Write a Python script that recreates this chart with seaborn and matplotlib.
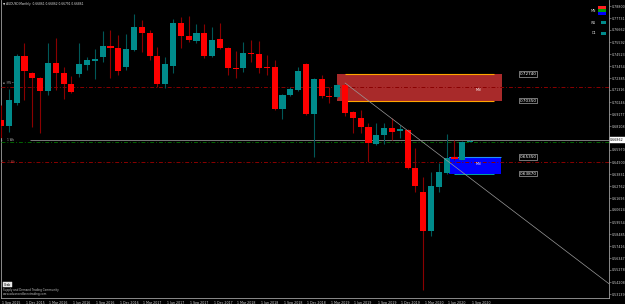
import matplotlib
matplotlib.use("Agg")
import matplotlib.pyplot as plt
import matplotlib.transforms as mtransforms
from matplotlib.patches import Rectangle
import seaborn as sns
import pandas as pd

# ---------------- data (monthly candles, Sep 2015 .. Sep 2020) ----------------
month_index = list(range(61))
opens = [0.6864, 0.6811, 0.7016, 0.7435, 0.7283, 0.7239, 0.7123, 0.7372, 0.7283, 0.7185,
         0.7274, 0.7354, 0.7390, 0.7426, 0.7524, 0.7506, 0.7337, 0.7488, 0.7693, 0.7639,
         0.7435, 0.7185, 0.7346, 0.7729, 0.7613, 0.7568, 0.7639, 0.7435, 0.7586, 0.7506,
         0.7328, 0.7328, 0.7461, 0.7452, 0.7337, 0.7337, 0.6962, 0.7087, 0.7132, 0.7363,
         0.6918, 0.7230, 0.7078, 0.7069, 0.7176, 0.6936, 0.6882, 0.6802, 0.6651, 0.6731,
         0.6793, 0.6766, 0.6775, 0.6437, 0.6223, 0.5876, 0.6268, 0.6392, 0.6535, 0.6508,
         0.6668]
highs = [0.6998, 0.7141, 0.7452, 0.7550, 0.7292, 0.7248, 0.7550, 0.7595, 0.7337, 0.7256,
         0.7550, 0.7426, 0.7497, 0.7657, 0.7666, 0.7622, 0.7631, 0.7809, 0.7755, 0.7666,
         0.7515, 0.7426, 0.7764, 0.7782, 0.7791, 0.7720, 0.7720, 0.7693, 0.7729, 0.7515,
         0.7479, 0.7559, 0.7577, 0.7568, 0.7444, 0.7399, 0.7096, 0.7158, 0.7337, 0.7372,
         0.7239, 0.7265, 0.7158, 0.7185, 0.7185, 0.6945, 0.6954, 0.6838, 0.6838, 0.6838,
         0.6882, 0.6820, 0.6784, 0.6615, 0.6357, 0.6401, 0.6481, 0.6740, 0.6686, 0.6677,
         0.6686]
lows = [0.6704, 0.6758, 0.6998, 0.7043, 0.6802, 0.6749, 0.7087, 0.7132, 0.7052, 0.7105,
        0.7248, 0.7310, 0.7230, 0.7381, 0.7239, 0.7265, 0.7310, 0.7479, 0.7470, 0.7399,
        0.7158, 0.7150, 0.7283, 0.7506, 0.7559, 0.7550, 0.7417, 0.7426, 0.7497, 0.7265,
        0.7239, 0.7292, 0.7381, 0.7283, 0.7265, 0.6954, 0.6873, 0.7078, 0.7123, 0.6909,
        0.6535, 0.7060, 0.7016, 0.7060, 0.6900, 0.6749, 0.6749, 0.6490, 0.6642, 0.6651,
        0.6686, 0.6704, 0.6428, 0.6223, 0.5350, 0.5831, 0.6223, 0.6383, 0.6508, 0.6508,
        0.6668]
closes = [0.6811, 0.7043, 0.7435, 0.7301, 0.7239, 0.7123, 0.7372, 0.7283, 0.7185, 0.7114,
          0.7363, 0.7399, 0.7408, 0.7524, 0.7506, 0.7301, 0.7497, 0.7693, 0.7639, 0.7435,
          0.7185, 0.7363, 0.7729, 0.7613, 0.7577, 0.7639, 0.7435, 0.7577, 0.7506, 0.7328,
          0.7319, 0.7461, 0.7452, 0.7328, 0.7328, 0.6962, 0.7087, 0.7141, 0.7301, 0.6918,
          0.7230, 0.7078, 0.7069, 0.7176, 0.6927, 0.6882, 0.6802, 0.6659, 0.6731, 0.6793,
          0.6758, 0.6784, 0.6437, 0.6277, 0.5876, 0.6277, 0.6401, 0.6526, 0.6517, 0.6668,
          0.6677]

date_tick_index = list(range(0, 61, 3))
date_tick_labels = ["1 Sep 2015", "1 Dec 2015", "1 Mar 2016", "1 Jun 2016", "1 Sep 2016",
                    "1 Dec 2016", "1 Mar 2017", "1 Jun 2017", "1 Sep 2017", "1 Dec 2017",
                    "1 Mar 2018", "1 Jun 2018", "1 Sep 2018", "1 Dec 2018", "1 Mar 2019",
                    "1 Jun 2019", "1 Sep 2019", "1 Dec 2019", "1 Mar 2020", "1 Jun 2020",
                    "1 Sep 2020"]
price_ticks = [0.78800, 0.77731, 0.76662, 0.75592, 0.74523, 0.73454, 0.72385, 0.71316,
               0.70246, 0.69177, 0.68108, 0.67039, 0.65970, 0.64900, 0.63831, 0.62762,
               0.61693, 0.60624, 0.59554, 0.58485, 0.57416, 0.56347, 0.55278, 0.54208,
               0.53139]

supply_zone = [0.7035, 0.7274]      # red box
supply_zone_x = [43.0, 64.1]
demand_zone = [0.6387, 0.6535]      # blue box
demand_zone_x = [57.3, 63.95]
level_lines = [0.7161, 0.6488]      # dark red dash-dot levels
bid_price = 0.66862
ask_line = 0.6666
trend_x = [44.0, 77.8]
trend_y = [0.7194, 0.5403]
title_text = "AUDUSD,Monthly  0.66861 0.66862 0.66791 0.66861"

# ---------------- styling ----------------
sns.set_theme(style="dark")
plt.rcParams["font.family"] = ["DejaVu Sans"]

W, H = 625, 304
fig = plt.figure(figsize=(W / 100, H / 100), dpi=100, facecolor="black")
ax = fig.add_axes([1 / W, 6 / H, 608 / W, 298 / H])
ax.set_facecolor("black")
ax.grid(False)

df = pd.DataFrame({"i": month_index, "o": opens, "h": highs, "l": lows, "c": closes})
df["up"] = df["c"] >= df["o"]
body_col = ["#008B8B" if u else "#FF0000" for u in df["up"]]
wick_col = ["#005858" if u else "#8B0000" for u in df["up"]]

# zones (behind candles)
ax.add_patch(Rectangle((supply_zone_x[0], supply_zone[0]), supply_zone_x[1] - supply_zone_x[0],
                       supply_zone[1] - supply_zone[0], fc="#A82A2A", ec="none", zorder=1))
ax.hlines(supply_zone, 44.0, 63.05, colors="#FFA500", lw=0.8, zorder=2)
ax.add_patch(Rectangle((demand_zone_x[0], demand_zone[0]), demand_zone_x[1] - demand_zone_x[0],
                       demand_zone[1] - demand_zone[0], fc="#0000FF", ec="none", zorder=1))
ax.hlines([demand_zone[1]], demand_zone_x[0], demand_zone_x[1], colors="#1E90FF", lw=0.8, zorder=2)
ax.hlines([demand_zone[0]], 58.0, 63.0, colors="#00BFBF", lw=0.6, zorder=2)

# level lines
for lv in level_lines:
    ax.axhline(lv, color="#8B0000", lw=0.7, ls=(0, (4, 2, 1, 2)), zorder=3)
ax.axhline(ask_line, color="#006400", lw=0.7, ls=(0, (4, 2, 1, 2)), zorder=3)
ax.hlines([bid_price], 3.7, 77.8, colors="#7A7A7A", lw=0.7, zorder=3)

# candles
ax.vlines(df["i"], df["l"], df["h"], colors=wick_col, lw=0.8, zorder=4)
heights = (df["c"] - df["o"]).abs().clip(lower=0.0009)
bottoms = df[["o", "c"]].min(axis=1)
ax.bar(df["i"], heights, bottom=bottoms, width=0.78, color=body_col, linewidth=0, zorder=5)

# trend line
sns.lineplot(x=trend_x, y=trend_y, ax=ax, color="#9A9A9A", lw=0.5, zorder=6)

# zone texts
ax.text(61.0, 0.7132, "MN", color="white", fontsize=2.4, ha="center", va="center", zorder=7)
ax.text(61.0, 0.6470, "MN", color="white", fontsize=2.4, ha="center", va="center", zorder=7)
for val in supply_zone + demand_zone:
    ax.text(66.3, val, f"{val:.5f}", color="white", fontsize=3.0, ha="left", va="center",
            zorder=7, bbox=dict(boxstyle="square,pad=0.15", fc="black", ec="#D0D0D0", lw=0.4))

# axes limits and ticks
ax.set_xlim(0.013, 77.76)
ax.set_ylim(0.52783, 0.79335)
ax.set_xticks(date_tick_index)
ax.set_xticklabels(date_tick_labels, fontsize=2.3, color="#D0D0D0", ha="left")
ax.yaxis.tick_right()
ax.set_yticks(price_ticks)
# the tick label hidden behind the bid-price tag is left blank
ylabels = ["" if abs(p - bid_price) < 0.004 else f"{p:.5f}" for p in price_ticks]
ax.set_yticklabels(ylabels, fontsize=2.3, color="#D0D0D0")
ax.tick_params(axis="both", length=1.5, width=0.4, color="#A0A0A0", pad=0.8)
ax.tick_params(axis="x", pad=0.6)
for lab in ax.get_xticklabels():
    lab.set_transform(lab.get_transform() + mtransforms.ScaledTranslation(1.5 / 100, 0, fig.dpi_scale_trans))
for s in ["left", "bottom", "right"]:
    ax.spines[s].set_visible(True)
    ax.spines[s].set_color("#A0A0A0")
    ax.spines[s].set_linewidth(0.6)
ax.spines["top"].set_visible(False)
ax.set_xlabel("")
ax.set_ylabel("")

# current price tag on the axis
ax.text(1.002, bid_price, f"{bid_price:.5f}", transform=ax.get_yaxis_transform(), fontsize=2.3,
        color="black", ha="left", va="center", zorder=8,
        bbox=dict(boxstyle="square,pad=0.2", fc="white", ec="white", lw=0.3), clip_on=False)

# figure decorations (pixel helpers)
def fx(x):
    return x / W

def fy(y):
    return 1 - y / H

fig.text(fx(3), fy(3.5), "\u25BC " + title_text, color="#E0E0E0", fontsize=2.1, va="center", ha="left")

# timeframe legend top right
fig.text(fx(596), fy(11), "MN", color="#E0E0E0", fontsize=2.3, ha="right", va="center")
fig.text(fx(596), fy(23), "W1", color="#E0E0E0", fontsize=2.3, ha="right", va="center")
fig.text(fx(596), fy(33.5), "D1", color="#E0E0E0", fontsize=2.3, ha="right", va="center")
for (y0, y1, col, x0) in [(6, 8.5, "#FF2020", 598), (9.5, 12, "#00A000", 598), (12.3, 15, "#0000FF", 598),
                          (21, 24, "#008B8B", 601), (32, 35, "#008B8B", 601)]:
    fig.add_artist(Rectangle((fx(x0), fy(y1)), fx(606) - fx(x0), (y1 - y0) / H,
                             transform=fig.transFigure, fc=col, ec="none"))

# left small level labels
fig.text(fx(3), fy(83.5), "\u25AA  MN \u2500", color="#909090", fontsize=2.0, ha="left", va="center")
fig.text(fx(1.5), fy(140), "1     1 Wk", color="#C0C0C0", fontsize=2.0, ha="left", va="center")
fig.text(fx(2.5), fy(162), "1     1 Wk", color="#C04040", fontsize=2.0, ha="left", va="center")

# bottom-left branding
fig.text(fx(4), fy(284.5), "Grab", color="black", fontsize=2.2, ha="left", va="center",
         bbox=dict(boxstyle="square,pad=0.3", fc="#E8E8E8", ec="#E8E8E8", lw=0.3))
fig.text(fx(3), fy(290), "Supply and Demand Trading Community", color="#C0C0C0", fontsize=2.0,
         ha="left", va="center")
fig.text(fx(3), fy(293.8), "www.advancedforextrading.com", color="#C0C0C0", fontsize=2.0,
         ha="left", va="center")

fig.savefig("out.png", dpi=100, facecolor="black")
